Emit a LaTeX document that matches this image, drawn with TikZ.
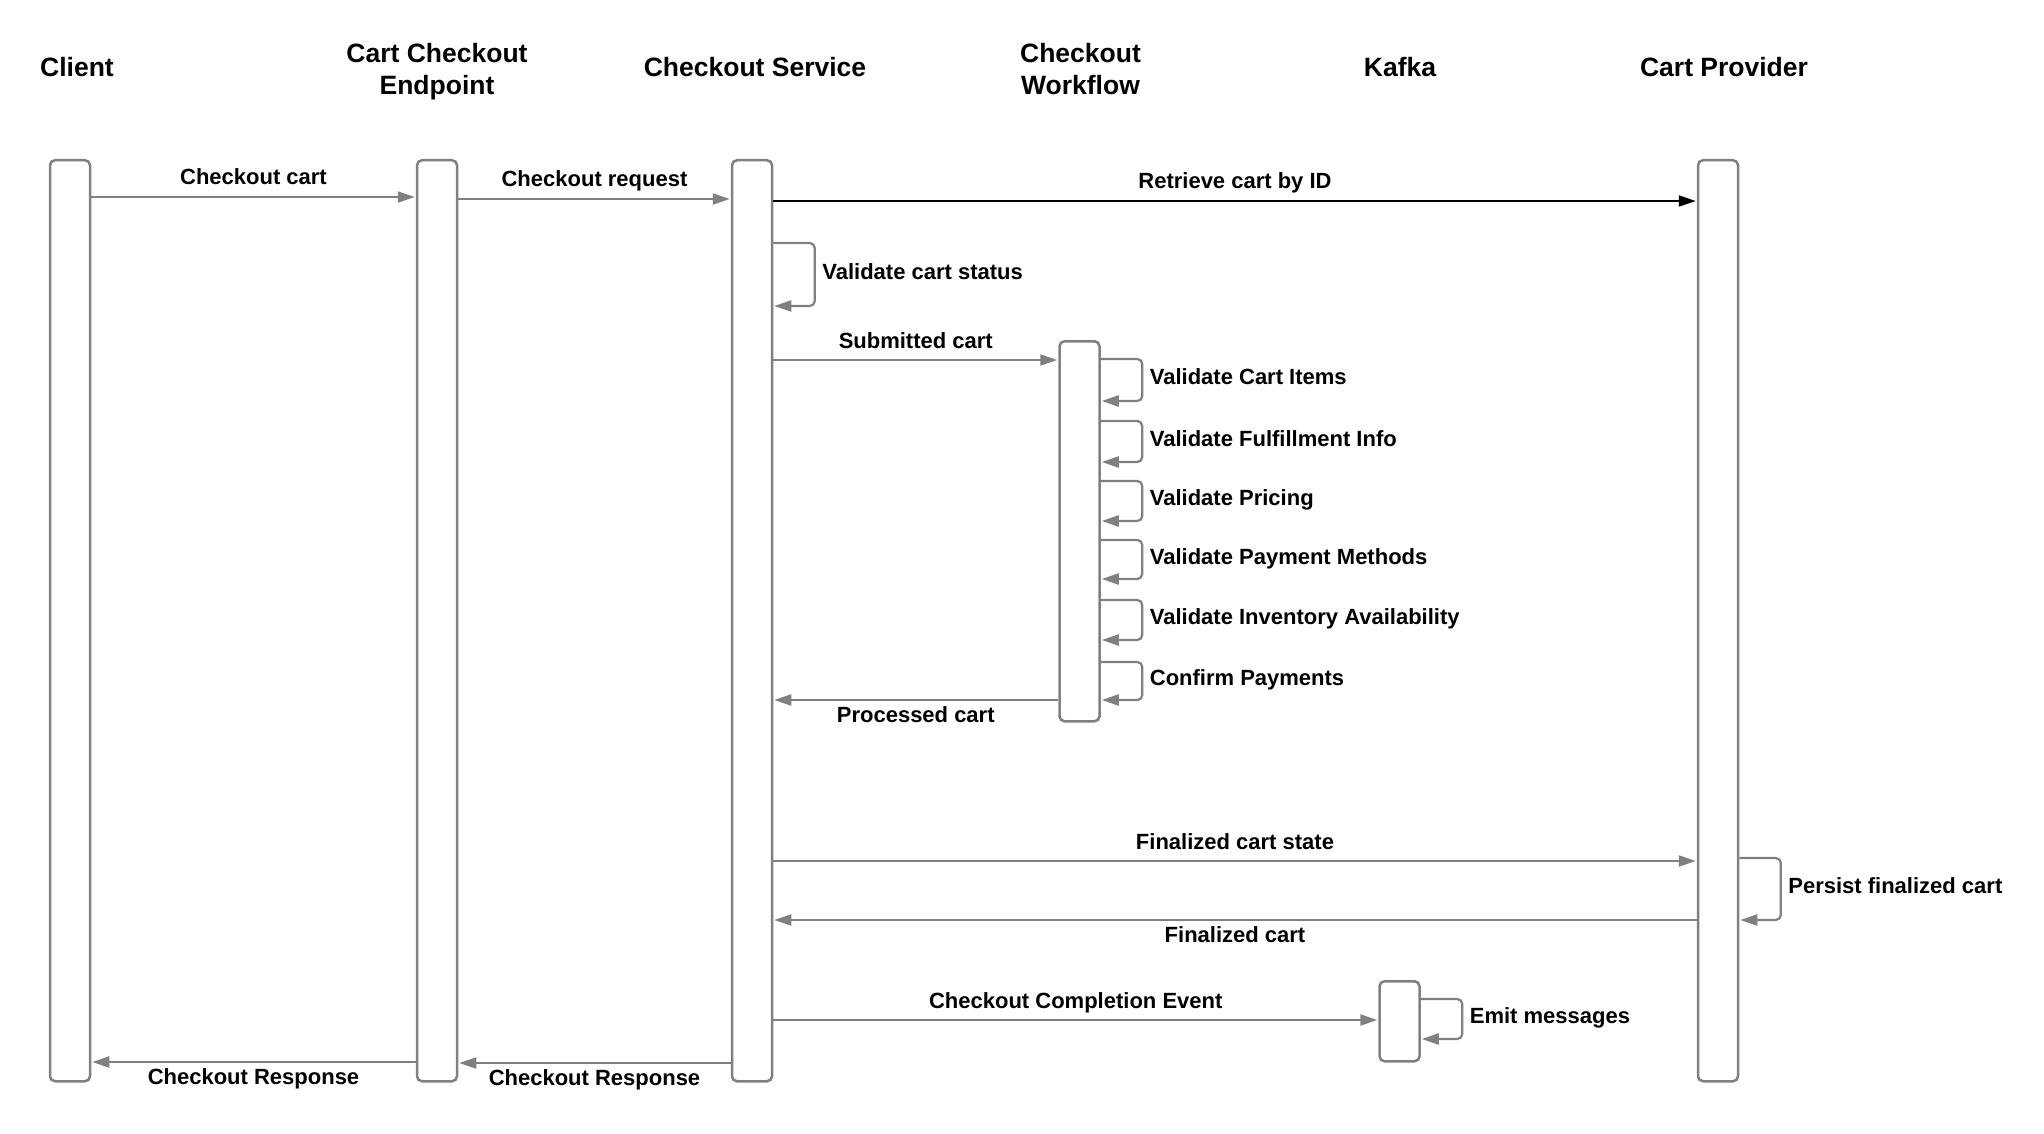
\documentclass[tikz,border=0pt]{standalone}
\usepackage{fontspec}
\setmainfont{Liberation Sans}
\usetikzlibrary{arrows.meta}
\definecolor{lg}{HTML}{808080}
\begin{document}
\begin{tikzpicture}[x=1pt,y=-1pt,
  lifebox/.style={draw=lg, line width=2.5pt, rounded corners=5pt, minimum width=40pt, inner sep=0pt, anchor=north, fill=white},
  hdr/.style={font=\fontsize{26.5}{32}\selectfont\bfseries, inner sep=0pt, align=center},
  tipA/.style={-{Triangle[length=17pt,width=11pt]}},
  msg/.style={draw=lg, line width=2.2pt, tipA, shorten >=1pt},
  blk/.style={draw=black, line width=2.2pt, tipA, shorten >=1pt},
  lab/.style={font=\fontsize{22}{26}\selectfont\bfseries, inner sep=0pt, text=black, midway, anchor=base},
  labup/.style={lab, yshift=12pt},
  labdn/.style={lab, yshift=-22pt},
  selfloop/.style={msg, rounded corners=5pt},
  looplab/.style={font=\fontsize{22}{26}\selectfont\bfseries, inner sep=0pt, text=black, pos=0.25, anchor=base west, xshift=6.5pt, yshift=-4.5pt}
]
\fill[white] (0,0) rectangle (2044,1134);
\useasboundingbox (0,0) rectangle (2044,1134);

% headers
\node[hdr, anchor=base] (hclient) at (77,77) {Client};
\node[hdr, anchor=north] (hendpoint) at (437,43.5) {Cart Checkout\\Endpoint};
\node[hdr, anchor=base] (hservice) at (755,77) {Checkout Service};
\node[hdr, anchor=north] (hworkflow) at (1080.5,43.5) {Checkout\\Workflow};
\node[hdr, anchor=base] (hkafka) at (1400,77) {Kafka};
\node[hdr, anchor=base] (hprovider) at (1724,77) {Cart Provider};

% lifeline boxes
\node[lifebox, minimum height=921pt] (client) at (70,159) {};
\node[lifebox, minimum height=921pt] (endpoint) at (437,159) {};
\node[lifebox, minimum height=921pt] (service) at (752,159) {};
\node[lifebox, minimum height=921pt] (provider) at (1718,159) {};
\node[lifebox, minimum height=380pt] (workflow) at (1079.5,340) {};
\node[lifebox, minimum height=80pt] (kafka) at (1399.5,980) {};

% row levels
\coordinate (r1) at (0,197);
\coordinate (r2) at (0,199);
\coordinate (r3) at (0,201);
\coordinate (v1) at (0,243);
\coordinate (v2) at (0,306);
\coordinate (r4) at (0,360);
\coordinate (w1a) at (0,359); \coordinate (w1b) at (0,401);
\coordinate (w2a) at (0,421); \coordinate (w2b) at (0,462);
\coordinate (w3a) at (0,481); \coordinate (w3b) at (0,521);
\coordinate (w4a) at (0,540); \coordinate (w4b) at (0,579);
\coordinate (w5a) at (0,600); \coordinate (w5b) at (0,640);
\coordinate (w6a) at (0,662); \coordinate (w6b) at (0,700);
\coordinate (r5) at (0,700);
\coordinate (r6) at (0,861);
\coordinate (p1) at (0,858); \coordinate (p2) at (0,920);
\coordinate (r7) at (0,920);
\coordinate (r8) at (0,1020);
\coordinate (k1) at (0,999); \coordinate (k2) at (0,1039);
\coordinate (r9) at (0,1062);
\coordinate (r10) at (0,1063);

% messages
\draw[msg] (client.east |- r1) -- node[labup] {Checkout cart} (endpoint.west |- r1);
\draw[msg] (endpoint.east |- r2) -- node[labup] {Checkout request} (service.west |- r2);
\draw[blk] (service.east |- r3) -- node[labup] {Retrieve cart by ID} (provider.west |- r3);
\draw[selfloop] (service.east |- v1) -- ++(41.5,0) |- node[looplab] {Validate cart status} (service.east |- v2);
\draw[msg] (service.east |- r4) -- node[labup] {Submitted cart} (workflow.west |- r4);

\draw[selfloop] (workflow.east |- w1a) -- ++(41.5,0) |- node[looplab] {Validate Cart Items} (workflow.east |- w1b);
\draw[selfloop] (workflow.east |- w2a) -- ++(41.5,0) |- node[looplab] {Validate Fulfillment Info} (workflow.east |- w2b);
\draw[selfloop] (workflow.east |- w3a) -- ++(41.5,0) |- node[looplab] {Validate Pricing} (workflow.east |- w3b);
\draw[selfloop] (workflow.east |- w4a) -- ++(41.5,0) |- node[looplab] {Validate Payment Methods} (workflow.east |- w4b);
\draw[selfloop] (workflow.east |- w5a) -- ++(41.5,0) |- node[looplab] {Validate Inventory Availability} (workflow.east |- w5b);
\draw[selfloop] (workflow.east |- w6a) -- ++(41.5,0) |- node[looplab] {Confirm Payments} (workflow.east |- w6b);

\draw[msg] (workflow.west |- r5) -- node[labdn] {Processed cart} (service.east |- r5);
\draw[msg] (service.east |- r6) -- node[labup] {Finalized cart state} (provider.west |- r6);
\draw[selfloop] (provider.east |- p1) -- ++(41.5,0) |- node[looplab] {Persist finalized cart} (provider.east |- p2);
\draw[msg] (provider.west |- r7) -- node[labdn] {Finalized cart} (service.east |- r7);
\draw[msg] (service.east |- r8) -- node[labup] {Checkout Completion Event} (kafka.west |- r8);
\draw[selfloop] (kafka.east |- k1) -- ++(41.5,0) |- node[looplab] {Emit messages} (kafka.east |- k2);
\draw[msg] (endpoint.west |- r9) -- node[labdn] {Checkout Response} (client.east |- r9);
\draw[msg] (service.west |- r10) -- node[labdn] {Checkout Response} (endpoint.east |- r10);
\end{tikzpicture}
\end{document}
